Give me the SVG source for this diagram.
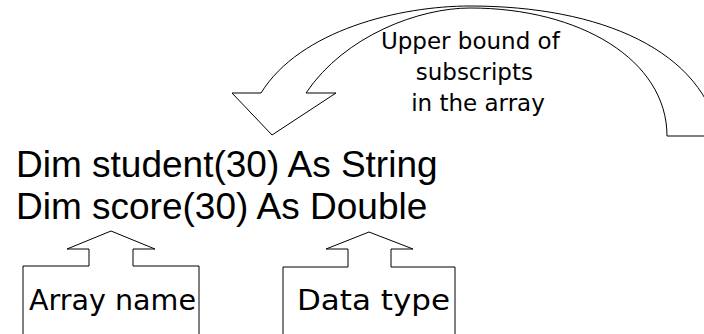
<svg xmlns="http://www.w3.org/2000/svg" width="704" height="334" viewBox="0 0 704 334">
  <style>
    .ln { fill: #ffffff; stroke: #000000; stroke-width: 1; stroke-linejoin: miter; }
    .open { fill: none; stroke: #000000; stroke-width: 1; }
    .code { font-family: "Liberation Sans", Arial, sans-serif; font-size: 37px; fill: #000000; }
    .note { font-family: "DejaVu Sans", "Noto Sans", sans-serif; fill: #000000; }
  </style>
  <rect width="704" height="334" fill="#ffffff"/>

  <g id="connectors">
    <path id="curved-arrow" class="open" d="M261,93 C300,30 400,6 470,6 C600,6 705,50 720,140 M306,93 C345,35 420,8 470,8 C580,8 667,60 667,136 L704,136 M261,93 L232,93 L272,135 L336,93 L306,93"/>
  </g>

  <g id="code">
    <text class="code" x="16" y="177">Dim student(30) As String</text>
    <text class="code" x="16" y="219">Dim score(30) As Double</text>
  </g>

  <g id="upper-bound">
    <text class="note" font-size="23" text-anchor="middle">
      <tspan x="474" y="49">Upper bound of</tspan>
      <tspan x="478" y="80">subscripts</tspan>
      <tspan x="478" y="111">in the array</tspan>
    </text>
  </g>

  <g id="array-name">
    <path class="ln" d="M23,334 L23,266 L89,266 L89,249 L67,249 L111,231 L155,249 L133,249 L133,266 L199,266 L199,334"/>
    <text class="note" font-size="29" x="29" y="310" textLength="167" lengthAdjust="spacingAndGlyphs">Array name</text>
  </g>

  <g id="data-type">
    <path class="ln" d="M283,334 L283,267 L348,267 L348,249 L326,249 L369,232 L413,249 L391,249 L391,267 L455,267 L455,334"/>
    <text class="note" font-size="29" x="297" y="310" textLength="153" lengthAdjust="spacingAndGlyphs">Data type</text>
  </g>
</svg>
